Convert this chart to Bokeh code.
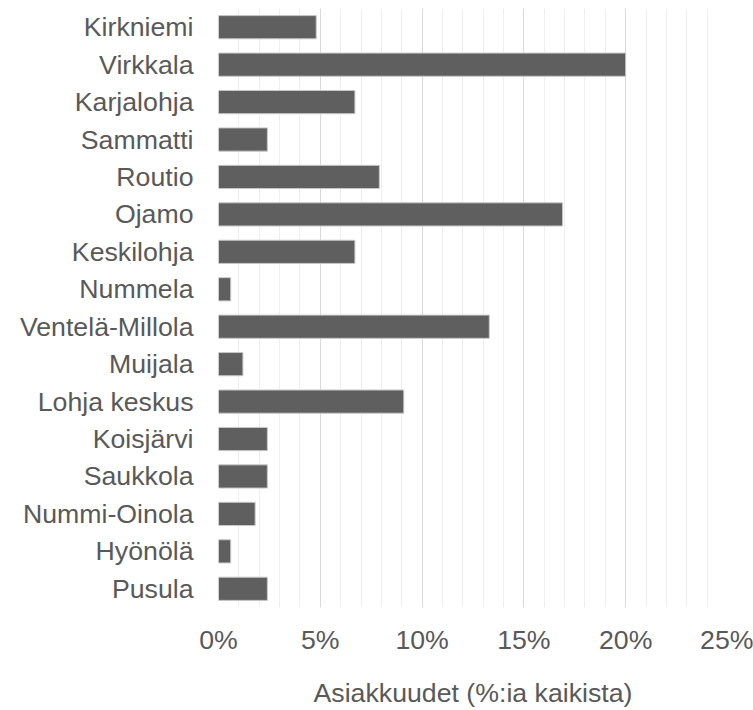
from bokeh.plotting import figure
from bokeh.models import Range1d, FactorRange, SingleIntervalTicker, PrintfTickFormatter, ColumnDataSource
from bokeh.embed import file_html
from bokeh.resources import INLINE

areas = ["Kirkniemi", "Virkkala", "Karjalohja", "Sammatti", "Routio", "Ojamo",
         "Keskilohja", "Nummela", "Ventelä-Millola", "Muijala", "Lohja keskus",
         "Koisjärvi", "Saukkola", "Nummi-Oinola", "Hyönölä", "Pusula"]
shares = [4.8, 20.0, 6.7, 2.4, 7.9, 16.9, 6.7, 0.6, 13.3, 1.2, 9.1, 2.4, 2.4, 1.8, 0.6, 2.4]
x_title = "Asiakkuudet (%:ia kaikista)"

FONT = "Liberation Sans"
TXT = "#595959"
FS = "26.7px"

src = ColumnDataSource(dict(area=areas, share=shares))

p = figure(width=753, height=710, output_backend="svg", toolbar_location=None,
           x_range=Range1d(0, 25), y_range=FactorRange(*areas[::-1]),
           min_border_left=218, min_border_right=26, min_border_top=8, min_border_bottom=100)
p.outline_line_color = None
p.background_fill_color = "white"
p.border_fill_color = "white"

p.hbar(y="area", right="share", left=0, height=0.62, source=src,
       fill_color="#5f5f5f", line_color="#c8c8c8", line_width=1)

ticker = SingleIntervalTicker(interval=5, num_minor_ticks=5)
p.xaxis.ticker = ticker
p.xgrid.ticker = ticker
p.xaxis.formatter = PrintfTickFormatter(format="%d%%")
p.xgrid.grid_line_color = "#d9d9d9"
p.xgrid.grid_line_width = 1
p.xgrid.minor_grid_line_color = "#eeeeee"
p.xgrid.minor_grid_line_width = 1
p.ygrid.grid_line_color = None

for ax in (p.xaxis[0], p.yaxis[0]):
    ax.axis_line_color = None
    ax.major_tick_line_color = None
    ax.minor_tick_line_color = None
    ax.major_tick_out = 0
    ax.major_tick_in = 0
    ax.minor_tick_out = 0
    ax.major_label_text_font = FONT
    ax.major_label_text_font_size = FS
    ax.major_label_text_color = TXT

p.xaxis.major_label_standoff = 17
p.yaxis.major_label_standoff = 25
p.xaxis.axis_label = x_title
p.xaxis.axis_label_text_font = FONT
p.xaxis.axis_label_text_font_size = FS
p.xaxis.axis_label_text_font_style = "normal"
p.xaxis.axis_label_text_color = TXT
p.xaxis.axis_label_standoff = 20

open("out.html", "w").write(file_html(p, INLINE))
